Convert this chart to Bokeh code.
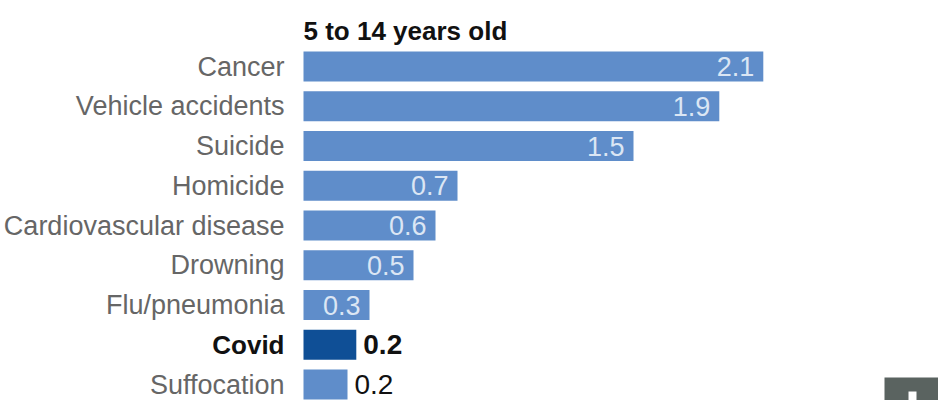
from bokeh.plotting import figure
from bokeh.embed import file_html
from bokeh.resources import INLINE
from bokeh.models import Range1d, BoxAnnotation, Label
from bokeh.core.properties import value

categories = ["Cancer", "Vehicle accidents", "Suicide", "Homicide", "Cardiovascular disease",
              "Drowning", "Flu/pneumonia", "Covid", "Suffocation"]
values = [2.09, 1.89, 1.5, 0.7, 0.6, 0.5, 0.3, 0.24, 0.2]
labels = ["2.1", "1.9", "1.5", "0.7", "0.6", "0.5", "0.3", "0.2", "0.2"]
title_text = "5 to 14 years old"
highlight = "Covid"

W, H = 938, 400
PX_X = 220.0
PX_Y = 39.75
x0 = 303
y0 = 66

p = figure(width=W, height=H, output_backend="svg", toolbar_location=None,
           x_range=Range1d(-x0 / PX_X, (W - x0) / PX_X),
           y_range=Range1d((H - y0) / PX_Y, -y0 / PX_Y),
           min_border=0, outline_line_color=None)
p.axis.visible = False
p.grid.visible = False
p.background_fill_color = "white"
p.border_fill_color = "white"

ys = list(range(len(categories)))
colors = ["#0f4f96" if c == highlight else "#5f8dca" for c in categories]
p.hbar(y=ys, left=0, right=values, height=0.755, fill_color=colors, line_color=None)

for i, (c, v, l) in enumerate(zip(categories, values, labels)):
    bold = c == highlight
    p.text(x=[0], y=[i], text=[c], text_align="right", text_baseline="middle", x_offset=-19,
           text_font=value("Liberation Sans"), text_font_size="26px" if bold else "27px",
           text_font_style="bold" if bold else "normal",
           text_color="#111111" if bold else "#666666")
    inside = v >= 0.3
    p.text(x=[v], y=[i], text=[l], text_align="right" if inside else "left", text_baseline="middle",
           x_offset=-9 if inside else 7,
           text_font=value("Liberation Sans"), text_font_size="27px" if inside else "28px",
           text_font_style="bold" if bold else "normal",
           text_color="#dbe6f4" if inside else "#111111")

p.add_layout(Label(x=303, y=H - 15, x_units="screen", y_units="screen", text=title_text,
                   text_align="left", text_baseline="top", text_font="Liberation Sans",
                   text_font_size="26px", text_font_style="bold", text_color="#111111"))

p.add_layout(BoxAnnotation(left=884, right=W, top=H - 377, bottom=0,
                           left_units="screen", right_units="screen",
                           top_units="screen", bottom_units="screen",
                           fill_color="#5a6360", fill_alpha=1, line_color=None))
p.add_layout(BoxAnnotation(left=908, right=916, top=H - 391, bottom=0,
                           left_units="screen", right_units="screen",
                           top_units="screen", bottom_units="screen",
                           fill_color="#ffffff", fill_alpha=1, line_color=None))

open("out.html", "w").write(file_html(p, INLINE))
